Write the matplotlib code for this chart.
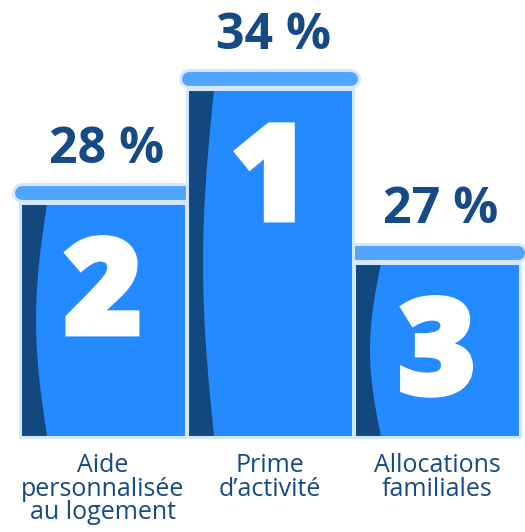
import numpy as np
import matplotlib.pyplot as plt
import matplotlib.patheffects as pe
from matplotlib.patches import Rectangle, Polygon

plt.rcParams['font.family'] = ['Open Sans', 'DejaVu Sans']

categories = ["Aide\npersonnalisée\nau logement", "Prime\nd’activité", "Allocations\nfamiliales"]
values = [28, 34, 27]
ranks = ["2", "1", "3"]
podium_heights = [2.34, 3.48, 1.74]

body_color = '#248AFF'
stripe_color = '#13487F'
cap_color = '#52A5FF'
edge_color = '#D3E7FF'
text_color = '#154A85'

fig = plt.figure(figsize=(5.25, 5.32), dpi=100)
ax = fig.add_axes([0, 0, 1, 1])
ax.set_xlim(-0.617, 2.527)
ax.set_ylim(-0.95, 4.37)
ax.axis('off')

width = 0.99
for i, (cat, val, rank, h) in enumerate(zip(categories, values, ranks, podium_heights)):
    # middle podium sits on top of its neighbours
    z = 10 if rank == "1" else 1
    left = i - width / 2

    ax.add_patch(Rectangle((left, 0), width, h, facecolor=body_color, edgecolor='none', zorder=z))

    ys = np.linspace(0, h, 60)
    xr = left + 0.16 - 0.066 * np.sin(np.pi * ys / h)
    pts = np.column_stack([np.r_[xr, left, left], np.r_[ys, h, 0]])
    ax.add_patch(Polygon(pts, closed=True, facecolor=stripe_color, edgecolor='none', zorder=z + 1))

    ax.add_patch(Rectangle((left, 0), width, h, fill=False, edgecolor=edge_color, lw=2.2,
                           joinstyle='round', zorder=z + 2))

    # pill-shaped cap on top
    cy = h + 0.10
    ax.plot([left + 0.012, left + width - 0.012], [cy, cy], color=edge_color, lw=14.4,
            solid_capstyle='round', zorder=z + 3)
    ax.plot([left + 0.012, left + width - 0.012], [cy, cy], color=cap_color, lw=10.0,
            solid_capstyle='round', zorder=z + 4)

    ax.text(i, h - 1.31, rank, color='white', fontsize=96, fontweight='heavy',
            ha='center', va='baseline', zorder=z + 5,
            path_effects=[pe.withStroke(linewidth=3.5, foreground='white', joinstyle='miter')])
    ax.text(i + 0.02, h + 0.40, f"{val} %", color=text_color, fontsize=36, fontweight='bold',
            ha='center', va='baseline', zorder=z + 5)
    ax.text(i, -0.16, cat, color=text_color, fontsize=18, ha='center', va='top',
            linespacing=0.93, zorder=z + 5)

fig.savefig('out.png', dpi=100)
